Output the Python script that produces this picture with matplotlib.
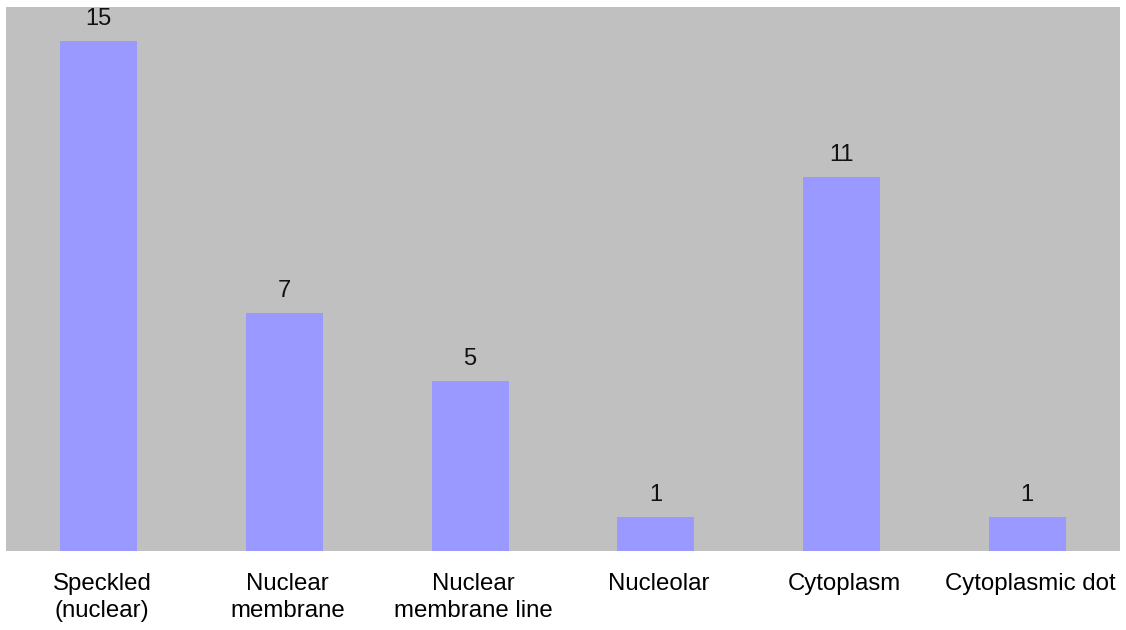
import matplotlib
matplotlib.use("Agg")
import matplotlib.pyplot as plt
from matplotlib.transforms import ScaledTranslation

categories = ["Speckled\n(nuclear)", "Nuclear\nmembrane", "Nuclear\nmembrane line",
              "Nucleolar", "Cytoplasm", "Cytoplasmic dot"]
counts = [15, 7, 5, 1, 11, 1]

plt.rcParams["font.family"] = ["Liberation Sans", "DejaVu Sans"]

fig = plt.figure(figsize=(11.26, 6.3), dpi=100)
W, H = 1126, 630
ax = fig.add_axes([6 / W, 1 - 551 / H, (1120 - 6) / W, (551 - 7) / H])
ax.set_facecolor("#C0C0C0")

x = list(range(len(categories)))
ax.bar(x, counts, width=0.415, color="#9999FF", edgecolor="none")
ax.set_xlim(-0.5, len(categories) - 0.5)
ax.set_ylim(0, 16)

for xi, v in zip(x, counts):
    ax.annotate(str(v), (xi, v), xytext=(0, 8), textcoords="offset points",
                ha="center", va="bottom", fontsize=17, color="#111111")

ax.set_xticks(x)
ax.set_xticklabels(categories, fontsize=17.3, linespacing=1.3)
ax.tick_params(axis="x", length=0, pad=16)
shift = ScaledTranslation(3 / 100, 0, fig.dpi_scale_trans)
for lbl in ax.get_xticklabels():
    lbl.set_transform(lbl.get_transform() + shift)
ax.set_yticks([])
for s in ax.spines.values():
    s.set_visible(False)

fig.savefig("out.png", dpi=100)
